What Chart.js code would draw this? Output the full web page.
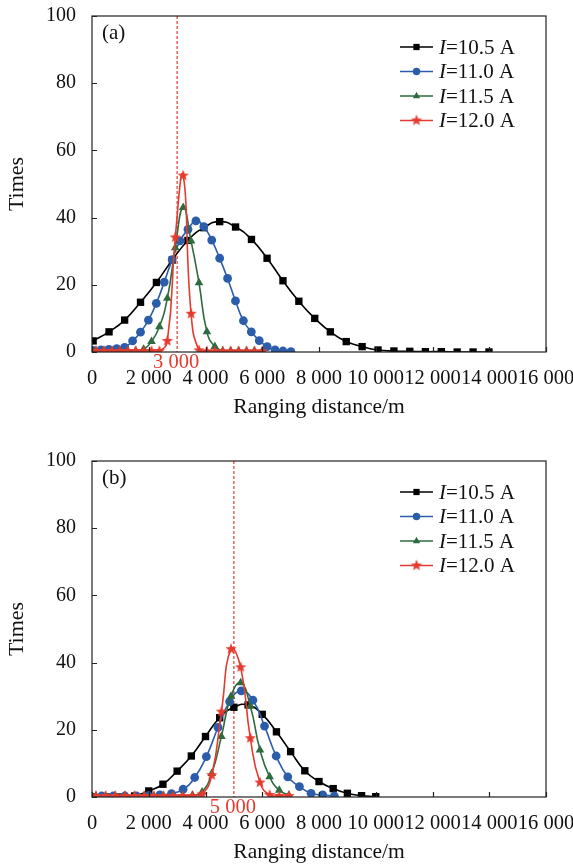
<!DOCTYPE html>
<html>
<head>
<meta charset="utf-8">
<script src="https://cdn.jsdelivr.net/npm/chart.js@4.4.1/dist/chart.umd.min.js"></script>
<style>
  html, body { margin: 0; padding: 0; background: #fff; }
  .panel { position: absolute; left: 0; width: 573px; height: 423px; }
  #panelA { top: 0; }
  #panelB { top: 445px; }
</style>
</head>
<body>
<div class="panel" id="panelA"><canvas id="chartA" width="573" height="423"></canvas></div>
<div class="panel" id="panelB"><canvas id="chartB" width="573" height="423"></canvas></div>
<script>
// ---- (a) ranging distance distributions ----
var a_x105 = [40, 600, 1150, 1710, 2270, 2830, 3380, 3940, 4500, 5060, 5620, 6170, 6730,
              7290, 7850, 8400, 8960, 9520, 10080, 10640, 11200, 11750, 12310, 12870, 13430, 13990];
var a_y105 = [3.3, 6.0, 9.5, 14.8, 20.7, 27.4, 33.2, 37.0, 38.8, 37.2, 33.5, 27.9, 21.2,
              15.1, 10.0, 6.0, 3.1, 1.6, 0.6, 0.3, 0.2, 0.1, 0.1, 0, 0, 0];
var a_x110 = [35, 314, 593, 872, 1151, 1430, 1709, 1988, 2267, 2546, 2825, 3104, 3383,
              3662, 3941, 4220, 4499, 4778, 5057, 5336, 5615, 5894, 6173, 6452, 6731, 7010];
var a_y110 = [0.5, 0.6, 0.8, 1.0, 1.4, 3.3, 5.9, 9.5, 14.5, 20.8, 27.5, 33.1, 36.5,
              39.0, 37.3, 33.3, 27.9, 21.9, 15.2, 9.3, 6.0, 3.4, 1.6, 0.6, 0.3, 0.1];
var a_x115 = [144, 423, 702, 981, 1260, 1539, 1818, 2097, 2376, 2655, 2934, 3213, 3492,
              3771, 4050, 4329, 4608, 4887, 5166, 5445, 5724, 6003];
var a_y115 = [0.3, 0.3, 0.3, 0.3, 0.3, 0.3, 0.8, 3.1, 7.5, 16.0, 31.0, 43.0, 33.0,
              20.6, 6.0, 1.6, 0.3, 0.3, 0.3, 0.3, 0.3, 0.3];
var a_x120 = a_x115;
var a_y120 = [0.3, 0.3, 0.3, 0.3, 0.3, 0.3, 0.3, 0.3, 0.3, 3.3, 34.1, 52.5, 11.4,
              0.5, 0.2, 0.2, 0.2, 0.2, 0.2, 0.2, 0.2, 0.2];

// ---- (b) ----
var b_x105 = [0, 500, 1000, 1500, 2000, 2500, 3000, 3500, 4000, 4500, 5000, 5500, 6000,
              6500, 7000, 7500, 8000, 8500, 9000, 9500, 10000];
var b_y105 = [0, 0, 0, 0.3, 1.8, 3.8, 7.7, 12.2, 18.0, 23.6, 26.7, 27.4, 24.6,
              19.4, 13.5, 7.8, 4.6, 2.5, 1.1, 0.4, 0.1];
var b_x110 = [340, 750, 1160, 1570, 1980, 2390, 2800, 3210, 3620, 4030, 4440, 4850, 5260,
              5670, 6080, 6490, 6900, 7310, 7720, 8130, 8540];
var b_y110 = [0.3, 0.3, 0.3, 0.3, 0.4, 0.6, 1.0, 2.3, 5.8, 12.0, 20.7, 28.4, 31.6,
              28.8, 21.1, 12.2, 6.0, 3.1, 1.1, 0.6, 0.3];
var b_x115 = [140, 480, 820, 1160, 1500, 1840, 2180, 2520, 2860, 3200, 3540, 3880, 4220,
              4560, 4900, 5240, 5580, 5920, 6260, 6600, 6940];
var b_y115 = [0.3, 0.3, 0.3, 0.3, 0.3, 0.3, 0.3, 0.3, 0.3, 0.3, 0.5, 1.5, 7.0,
              18.0, 30.0, 34.0, 27.0, 14.0, 6.0, 2.0, 0.5];
var b_x120 = b_x115;
var b_y120 = [0.3, 0.3, 0.3, 0.3, 0.3, 0.3, 0.3, 0.3, 0.3, 0.3, 0.3, 0.8, 6.5,
              25.4, 44.0, 38.6, 17.5, 4.3, 0.6, 0.3, 0.3];

var seriesNames = ['=10.5 A', '=11.0 A', '=11.5 A', '=12.0 A'];
var colors = ['#000000', '#2c5dab', '#2d6c3f', '#e53a2e'];
var serif = "'Liberation Serif', 'Times New Roman', serif";

// filled five-point star for the 12.0 A series
function makeStar(color, r) {
  var c = document.createElement('canvas');
  var s = Math.ceil(r * 2 + 2);
  c.width = s; c.height = s;
  var g = c.getContext('2d');
  g.fillStyle = color;
  g.beginPath();
  for (var i = 0; i < 10; i++) {
    var rad = i % 2 === 0 ? r : r * 0.42;
    var ang = -Math.PI / 2 + i * Math.PI / 5;
    var px = s / 2 + rad * Math.cos(ang), py = s / 2 + rad * Math.sin(ang);
    if (i === 0) g.moveTo(px, py); else g.lineTo(px, py);
  }
  g.closePath();
  g.fill();
  return c;
}
var starImg = makeStar(colors[3], 6);

var markers = [
  { pointStyle: 'rect', radius: 5.2 },
  { pointStyle: 'circle', radius: 4.4 },
  { pointStyle: 'triangle', radius: 5 },
  { pointStyle: starImg, radius: 6 }
];

function pts(xs, ys) {
  return xs.map(function (x, i) { return { x: x, y: ys[i] }; });
}

function fmtThousands(v) {
  var s = String(v);
  if (v >= 1000) s = s.slice(0, s.length - 3) + ' ' + s.slice(s.length - 3);
  return s;
}

// box round the plot, inward tick marks, marker line, panel tag and legend
var decorations = {
  id: 'decorations',
  beforeDatasetsDraw: function (chart, args, opts) {
    var a = chart.chartArea, ctx = chart.ctx;
    var px = chart.scales.x.getPixelForValue(opts.markX);
    ctx.save();
    ctx.strokeStyle = colors[3];
    ctx.lineWidth = 1.2;
    ctx.setLineDash([3, 2]);
    ctx.beginPath();
    ctx.moveTo(px, a.top);
    ctx.lineTo(px, a.bottom);
    ctx.stroke();
    ctx.restore();
  },
  afterDraw: function (chart, args, opts) {
    var a = chart.chartArea, ctx = chart.ctx;
    var xs = chart.scales.x, ys = chart.scales.y;
    ctx.save();
    ctx.strokeStyle = '#222';
    ctx.lineWidth = 1.2;
    ctx.strokeRect(a.left, a.top, a.right - a.left, a.bottom - a.top);
    ctx.beginPath();
    xs.ticks.forEach(function (t) {
      var p = Math.round(xs.getPixelForValue(t.value)) + 0.5;
      ctx.moveTo(p, a.bottom);
      ctx.lineTo(p, a.bottom - 5);
    });
    ys.ticks.forEach(function (t) {
      var p = Math.round(ys.getPixelForValue(t.value)) + 0.5;
      ctx.moveTo(a.left, p);
      ctx.lineTo(a.left + 5, p);
    });
    ctx.stroke();

    // value under the dashed line
    ctx.font = '20.5px ' + serif;
    ctx.fillStyle = colors[3];
    ctx.textAlign = 'center';
    ctx.textBaseline = 'middle';
    ctx.fillText(fmtThousands(opts.markX), xs.getPixelForValue(opts.markX) - 1, a.bottom + 11);

    // panel tag
    ctx.font = '21px ' + serif;
    ctx.fillStyle = '#111';
    ctx.textAlign = 'left';
    ctx.fillText(opts.tag, a.left + 10, a.top + 17);

    // legend
    for (var i = 0; i < seriesNames.length; i++) {
      var y = a.top + 31 + i * 24.5;
      var x0 = a.left + 308;
      ctx.strokeStyle = colors[i];
      ctx.lineWidth = 1.6;
      ctx.beginPath();
      ctx.moveTo(x0, y);
      ctx.lineTo(x0 + 33, y);
      ctx.stroke();
      ctx.fillStyle = colors[i];
      Chart.helpers.drawPoint(ctx, {
        pointStyle: markers[i].pointStyle, radius: markers[i].radius * 0.85,
        rotation: 0, borderWidth: 0
      }, x0 + 16.5, y);
      ctx.fillStyle = '#111';
      ctx.font = 'italic 21px ' + serif;
      ctx.fillText('I', x0 + 39, y + 1);
      var w = ctx.measureText('I').width;
      ctx.font = '21px ' + serif;
      ctx.fillText(seriesNames[i], x0 + 39 + w, y + 1);
    }
    ctx.restore();
  }
};

function buildChart(canvasId, series, markX, tag) {
  var ctx = document.getElementById(canvasId).getContext('2d');
  var order = [3, 2, 1, 0];
  return new Chart(ctx, {
    type: 'line',
    data: {
      datasets: series.map(function (s, i) {
        return {
          label: 'I' + seriesNames[i],
          data: pts(s[0], s[1]),
          borderColor: colors[i],
          backgroundColor: colors[i],
          borderWidth: 1.6,
          pointStyle: markers[i].pointStyle,
          pointRadius: markers[i].radius,
          pointBorderWidth: 0,
          pointBackgroundColor: colors[i],
          fill: false,
          tension: 0.5,
          order: order[i]
        };
      })
    },
    options: {
      responsive: false,
      animation: false,
      layout: { padding: { left: 0, right: 27, top: 16, bottom: 0 } },
      plugins: {
        legend: { display: false },
        tooltip: { enabled: false },
        decorations: { markX: markX, tag: tag }
      },
      scales: {
        x: {
          type: 'linear',
          min: 0, max: 16000,
          grid: { display: false, drawTicks: false },
          border: { display: false },
          ticks: {
            stepSize: 2000, autoSkip: false, maxRotation: 0, padding: 14,
            color: '#111', font: { family: serif, size: 20.5 },
            callback: function (v) { return fmtThousands(v); }
          },
          title: {
            display: true, text: 'Ranging distance/m', color: '#111',
            font: { family: serif, size: 21.5 }, padding: { top: 0, bottom: 3 }
          },
          afterFit: function (scale) {
            scale.height = 71;
            scale.paddingLeft = 0; scale.paddingRight = 0;
          }
        },
        y: {
          min: 0, max: 100,
          grid: { display: false, drawTicks: false },
          border: { display: false },
          ticks: {
            stepSize: 20, padding: 16,
            color: '#111', font: { family: serif, size: 20 }
          },
          title: {
            display: true, text: 'Times', color: '#111',
            font: { family: serif, size: 22 }, padding: { top: 4, bottom: 0 }
          },
          afterFit: function (scale) {
            scale.width = 92;
            scale.paddingTop = 0; scale.paddingBottom = 0;
          }
        }
      }
    },
    plugins: [decorations]
  });
}

buildChart('chartA', [[a_x105, a_y105], [a_x110, a_y110], [a_x115, a_y115], [a_x120, a_y120]], 3000, '(a)');
buildChart('chartB', [[b_x105, b_y105], [b_x110, b_y110], [b_x115, b_y115], [b_x120, b_y120]], 5000, '(b)');
</script>
</body>
</html>
